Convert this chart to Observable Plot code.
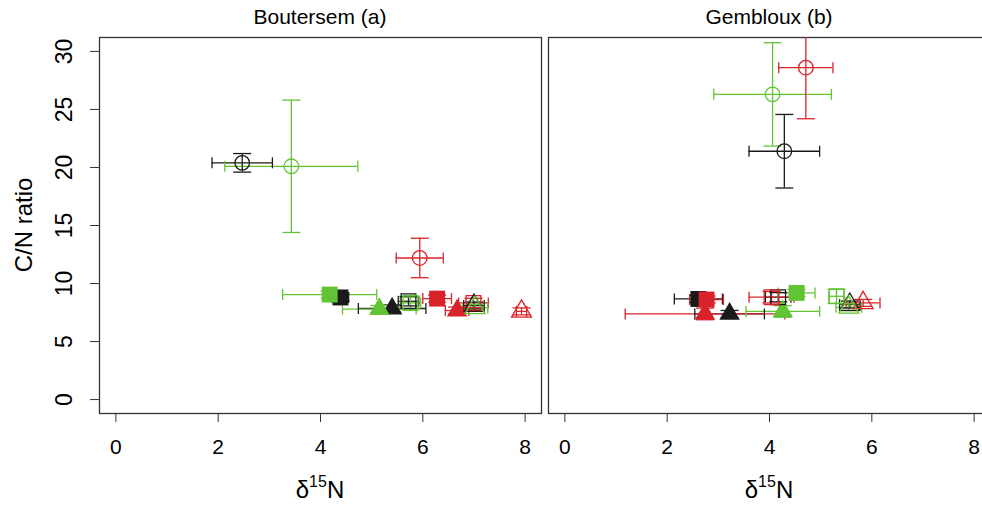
<!DOCTYPE html>
<html><head><meta charset="utf-8">
<script src="https://cdn.jsdelivr.net/npm/d3@7"></script>
<script src="https://cdn.jsdelivr.net/npm/@observablehq/plot@0.6"></script>
<style>
html,body{margin:0;padding:0;background:#fff;overflow:hidden;width:982px;height:506px}
#wrap{position:relative;width:982px;height:506px;overflow:hidden}
#wrap > svg{position:absolute;top:0;max-width:none !important}
</style></head><body><div id="wrap"></div>
<script>
// ---- data ----
const panelTitles = ["Boutersem (a)", "Gembloux (b)"];
const xTicks = [0, 2, 4, 6, 8];
const yTicks = [0, 5, 10, 15, 20, 25, 30];
const seriesColor = ["black","red","green","black","red","green","black","red","green","black","red","green","black","red","green"];
const seriesShape = ["openCircle","openCircle","openCircle","fillSquare","fillSquare","fillSquare","fillTriangle","fillTriangle","fillTriangle","openSquare","openSquare","openSquare","openTriangle","openTriangle","openTriangle"];

const boutersemX    = [2.47, 5.94, 3.43, 4.39, 6.28, 4.18, 5.40, 6.67, 5.15, 5.72, 6.99, 5.76, 7.00, 7.93, 7.02];
const boutersemY    = [20.4, 12.2, 20.1, 8.80, 8.70, 9.05, 7.85, 7.67, 7.80, 8.47, 8.33, 8.33, 8.10, 7.60, 7.90];
const boutersemXErr = [0.59, 0.46, 1.30, 0.16, 0.28, 0.92, 0.66, 0.23, 0.72, 0.20, 0.29, 0.20, 0.20, 0.10, 0.25];
const boutersemYErr = [0.80, 1.70, 5.70, 0.30, 0.30, 0.30, 0.30, 0.30, 0.30, 0.40, 0.40, 0.50, 0.30, 0.30, 0.30];

const gemblouxX    = [4.29, 4.71, 4.06, 2.61, 2.77, 4.53, 3.22, 2.74, 4.26, 4.17, 4.04, 5.31, 5.57, 5.83, 5.55];
const gemblouxY    = [21.4, 28.6, 26.3, 8.67, 8.62, 9.19, 7.38, 7.38, 7.60, 8.82, 8.82, 8.90, 8.19, 8.33, 7.95];
const gemblouxXErr = [0.69, 0.53, 1.15, 0.47, 0.33, 0.36, 0.68, 1.56, 0.72, 0.25, 0.44, 0.15, 0.20, 0.33, 0.25];
const gemblouxYErr = [3.17, 4.40, 4.45, 0.30, 0.30, 0.30, 0.30, 0.50, 0.50, 0.40, 0.50, 0.60, 0.30, 0.30, 0.30];

const palette = {black: "#1a1a1a", red: "#d9232a", green: "#62c434"};
const FONT = "'Liberation Sans', Arial, sans-serif";

function rowsFor(X, Y, XE, YE) {
  return X.map((x, i) => ({x, y: Y[i], xe: XE[i], ye: YE[i], color: palette[seriesColor[i]], shape: seriesShape[i]}));
}

const hcap = {draw(ctx) { ctx.moveTo(-9, 0); ctx.lineTo(9, 0); }};
const vcap = {draw(ctx) { ctx.moveTo(0, -5.5); ctx.lineTo(0, 5.5); }};

function makePanel(rows, title, withY, left, ml, mr) {
  const W = ml + 442 + mr;
  const sw = 1.3;
  const marks = [
    Plot.frame({stroke: "#333", strokeWidth: 1.3}),
    Plot.ruleY(rows, {y: "y", x1: d => d.x - d.xe, x2: d => d.x + d.xe, stroke: "color", strokeWidth: sw, clip: true}),
    Plot.ruleX(rows, {x: "x", y1: d => d.y - d.ye, y2: d => d.y + d.ye, stroke: "color", strokeWidth: sw, clip: true}),
    Plot.dot(rows, {x: d => d.x - d.xe, y: "y", symbol: vcap, fill: "none", stroke: "color", strokeWidth: sw, clip: true}),
    Plot.dot(rows, {x: d => d.x + d.xe, y: "y", symbol: vcap, fill: "none", stroke: "color", strokeWidth: sw, clip: true}),
    Plot.dot(rows, {x: "x", y: d => d.y - d.ye, symbol: hcap, fill: "none", stroke: "color", strokeWidth: sw, clip: true}),
    Plot.dot(rows, {x: "x", y: d => d.y + d.ye, symbol: hcap, fill: "none", stroke: "color", strokeWidth: sw, clip: true}),
    Plot.dot(rows, {filter: d => d.shape === "openCircle", x: "x", y: "y", symbol: "circle", r: 7.3, fill: "none", stroke: "color", strokeWidth: sw}),
    Plot.dot(rows, {filter: d => d.shape === "fillSquare", x: "x", y: "y", symbol: "square", r: 9, fill: "color", stroke: "none"}),
    Plot.dot(rows, {filter: d => d.shape === "fillTriangle", x: "x", y: "y", symbol: "triangle", r: 7.6, fill: "color", stroke: "none"}),
    Plot.dot(rows, {filter: d => d.shape === "openSquare", x: "x", y: "y", symbol: "square", r: 8.3, fill: "none", stroke: "color", strokeWidth: sw}),
    Plot.dot(rows, {filter: d => d.shape === "openTriangle", x: "x", y: "y", symbol: "triangle", r: 7.4, fill: "none", stroke: "color", strokeWidth: sw}),
    Plot.axisX({ticks: xTicks, tickSize: 9, tickFormat: () => "", label: null, stroke: "#333"}),
    Plot.text(xTicks, {x: d => d, text: d => String(d), frameAnchor: "bottom", dy: 34,
      textAnchor: "middle", lineAnchor: "middle", fontSize: 21, fill: "#000"})
  ];
  if (withY) {
    marks.push(Plot.axisY({ticks: yTicks, tickSize: 9, tickFormat: () => "", label: null, stroke: "#333"}));
    marks.push(Plot.text(yTicks, {y: d => d, text: d => String(d), frameAnchor: "left", dx: -35, rotate: -90,
      textAnchor: "middle", lineAnchor: "middle", fontSize: 23, fill: "#000"}));
  }
  const svg = Plot.plot({
    width: W, height: 506,
    marginLeft: ml, marginRight: mr, marginTop: 37, marginBottom: 93,
    x: {domain: [-0.32, 8.32]},
    y: {domain: [-1.2, 31.2], axis: withY ? undefined : null},
    color: {type: "identity"},
    style: {fontFamily: FONT, fontSize: "21px", background: "white", color: "#000"},
    marks
  });
  svg.style.left = left + "px";
  svg.style.maxWidth = "none";
  const s = d3.select(svg);
  const cx = ml + 221;
  s.append("text").attr("x", cx).attr("y", 24).attr("text-anchor", "middle")
    .attr("font-family", FONT).attr("font-size", 21).attr("fill", "#000").text(title);
  const xl = s.append("text").attr("x", cx).attr("y", 498).attr("text-anchor", "middle")
    .attr("font-family", FONT).attr("font-size", 24).attr("fill", "#000");
  xl.append("tspan").text("δ");
  xl.append("tspan").attr("font-size", 16).attr("dy", -11).text("15");
  xl.append("tspan").attr("dy", 11).text("N");
  if (withY) {
    s.append("text").attr("transform", `translate(32,${37 + 188}) rotate(-90)`).attr("text-anchor", "middle")
      .attr("font-family", FONT).attr("font-size", 24).attr("fill", "#000").text("C/N ratio");
  }
  return svg;
}

const wrap = document.getElementById("wrap");
wrap.appendChild(makePanel(rowsFor(boutersemX, boutersemY, boutersemXErr, boutersemYErr), panelTitles[0], true, 0, 99, 4));
wrap.appendChild(makePanel(rowsFor(gemblouxX, gemblouxY, gemblouxXErr, gemblouxYErr), panelTitles[1], false, 545, 3, 4));
</script></body></html>
